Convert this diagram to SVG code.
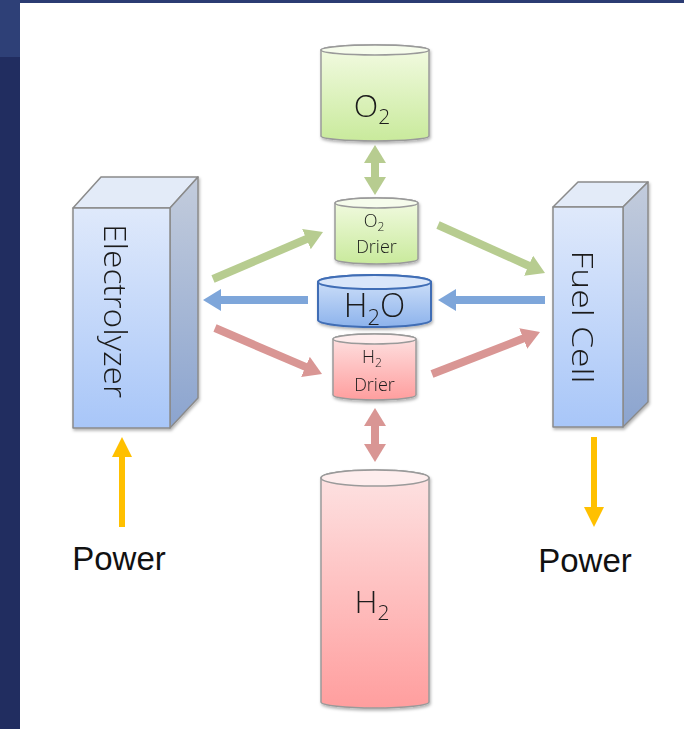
<svg xmlns="http://www.w3.org/2000/svg" width="684" height="729" viewBox="0 0 684 729">
<style>
.lbl{font-family:"Open Sans","Liberation Sans",sans-serif;fill:#1a1a1a;text-anchor:middle;font-weight:300}
.pw{font-family:"Liberation Sans",Arial,sans-serif;font-size:33px;fill:#111;text-anchor:middle}
.tank{stroke:#9a9a9a;stroke-width:1.5}
.box{stroke:#8a8a8a;stroke-width:1.5;stroke-linejoin:round}
</style>
<defs>
<linearGradient id="gG" x1="0" y1="0" x2="0" y2="1"><stop offset="0" stop-color="#F3FBE3"/><stop offset="1" stop-color="#C9EA9C"/></linearGradient>
<linearGradient id="gR" x1="0" y1="0" x2="0" y2="1"><stop offset="0" stop-color="#FDE3E3"/><stop offset="1" stop-color="#FF9E9E"/></linearGradient>
<linearGradient id="gB" x1="0" y1="0" x2="0" y2="1"><stop offset="0" stop-color="#D3E3FA"/><stop offset="1" stop-color="#8DB3EC"/></linearGradient>
<linearGradient id="gF" x1="0" y1="0" x2="0" y2="1"><stop offset="0" stop-color="#DFE9FB"/><stop offset="1" stop-color="#A8C6F8"/></linearGradient>
<linearGradient id="gS" x1="0" y1="0" x2="0" y2="1"><stop offset="0" stop-color="#C3CCDC"/><stop offset="1" stop-color="#8BA4CF"/></linearGradient>
<filter id="sh" x="-20%" y="-20%" width="140%" height="140%"><feDropShadow dx="1" dy="2" stdDeviation="1.5" flood-color="#000" flood-opacity="0.3"/></filter>
<marker id="mG" markerUnits="userSpaceOnUse" markerWidth="18" markerHeight="22" viewBox="0 0 18 22" refX="2" refY="11" orient="auto-start-reverse"><path d="M0,0 L18,11 L0,22 Z" fill="#B7CC90"/></marker>
<marker id="mB" markerUnits="userSpaceOnUse" markerWidth="18" markerHeight="22" viewBox="0 0 18 22" refX="2" refY="11" orient="auto-start-reverse"><path d="M0,0 L18,11 L0,22 Z" fill="#7EA6DA"/></marker>
<marker id="mR" markerUnits="userSpaceOnUse" markerWidth="18" markerHeight="22" viewBox="0 0 18 22" refX="2" refY="11" orient="auto-start-reverse"><path d="M0,0 L18,11 L0,22 Z" fill="#D99694"/></marker>
<marker id="mO" markerUnits="userSpaceOnUse" markerWidth="20" markerHeight="20" viewBox="0 0 20 20" refX="2" refY="10" orient="auto"><path d="M0,0 L20,10 L0,20 Z" fill="#FFC000"/></marker>
</defs>

<rect x="0" y="0" width="684" height="729" fill="#212D60"/>
<rect x="0" y="0" width="684" height="3" fill="#2B3C73"/>
<rect x="0" y="0" width="20" height="57" fill="#2E4077"/>
<rect x="20" y="3" width="664" height="726" fill="#FFFFFF"/>

<g id="connectors" fill="none">
<line x1="213" y1="279" x2="308.3" y2="238.3" stroke="#B7CC90" stroke-width="8" marker-end="url(#mG)"/>
<line x1="438" y1="225" x2="530.4" y2="266.5" stroke="#B7CC90" stroke-width="8" marker-end="url(#mG)"/>
<line x1="375" y1="161" x2="375" y2="179" stroke="#B7CC90" stroke-width="8" marker-start="url(#mG)" marker-end="url(#mG)"/>
<line x1="308" y1="300" x2="219" y2="300" stroke="#7EA6DA" stroke-width="8" marker-end="url(#mB)"/>
<line x1="545" y1="300" x2="454" y2="300" stroke="#7EA6DA" stroke-width="8" marker-end="url(#mB)"/>
<line x1="215" y1="328" x2="307.3" y2="367.7" stroke="#D99694" stroke-width="8" marker-end="url(#mR)"/>
<line x1="432" y1="374" x2="525.1" y2="337.8" stroke="#D99694" stroke-width="8" marker-end="url(#mR)"/>
<line x1="375" y1="424" x2="375" y2="446" stroke="#D99694" stroke-width="8" marker-start="url(#mR)" marker-end="url(#mR)"/>
<line x1="122" y1="527" x2="122" y2="455" stroke="#FFC000" stroke-width="6" marker-end="url(#mO)"/>
<line x1="594" y1="437" x2="594" y2="509" stroke="#FFC000" stroke-width="6" marker-end="url(#mO)"/>
</g>

<g id="electrolyzer" filter="url(#sh)">
<polygon class="box" points="73,208 101,177 198,177 170,208" fill="#E3EBF8"/>
<polygon class="box" points="170,208 198,177 198,398 170,428" fill="url(#gS)"/>
<rect class="box" x="73" y="208" width="97" height="220" fill="url(#gF)"/>
<text class="lbl" font-size="31" dominant-baseline="central" transform="translate(116,311) rotate(90)" textLength="174" lengthAdjust="spacingAndGlyphs">Electrolyzer</text>
</g>

<g id="fuelcell" filter="url(#sh)">
<polygon class="box" points="553,207 578,182 648,182 623,207" fill="#E3EBF8"/>
<polygon class="box" points="623,207 648,182 648,402 623,427" fill="url(#gS)"/>
<rect class="box" x="553" y="207" width="70" height="220" fill="url(#gF)"/>
<text class="lbl" font-size="30" dominant-baseline="central" transform="translate(583,317) rotate(90)" textLength="133" lengthAdjust="spacingAndGlyphs">Fuel Cell</text>
</g>

<g id="o2tank" filter="url(#sh)">
<path class="tank" d="M321,50 L321,136 A54,5 0 0 0 429,136 L429,50 A54,5 0 0 0 321,50 Z" fill="url(#gG)"/>
<ellipse class="tank" cx="375" cy="50" rx="54" ry="5" fill="#F6FCEC"/>
<text class="lbl" x="372" y="117" font-size="32">O<tspan font-size="21" dy="7">2</tspan></text>
</g>

<g id="o2drier" filter="url(#sh)">
<path class="tank" d="M335,203 L335,259 A41.5,5 0 0 0 418,259 L418,203 A41.5,5 0 0 0 335,203 Z" fill="url(#gG)"/>
<ellipse class="tank" cx="376.5" cy="203" rx="41.5" ry="5" fill="#F6FCEC"/>
<text class="lbl" x="374" y="227" font-size="18">O<tspan font-size="12" dy="4">2</tspan></text>
<text class="lbl" x="376.5" y="253" font-size="18">Drier</text>
</g>

<g id="h2o" filter="url(#sh)">
<path d="M318,282 L318,320 A56.5,7 0 0 0 431,320 L431,282 A56.5,7 0 0 0 318,282 Z" fill="url(#gB)" stroke="#3F6DB5" stroke-width="2"/>
<ellipse cx="374.5" cy="282" rx="56.5" ry="7" fill="#D9E6FA" stroke="#3F6DB5" stroke-width="2"/>
<text class="lbl" x="374.5" y="317" font-size="33">H<tspan font-size="22" dy="8">2</tspan><tspan dy="-8">O</tspan></text>
</g>

<g id="h2drier" filter="url(#sh)">
<path class="tank" d="M333,339 L333,395 A41.5,5 0 0 0 416,395 L416,339 A41.5,5 0 0 0 333,339 Z" fill="url(#gR)"/>
<ellipse class="tank" cx="374.5" cy="339" rx="41.5" ry="5" fill="#FEEDED"/>
<text class="lbl" x="372" y="363" font-size="18">H<tspan font-size="12" dy="4">2</tspan></text>
<text class="lbl" x="374.5" y="391" font-size="18">Drier</text>
</g>

<g id="h2tank" filter="url(#sh)">
<path class="tank" d="M321,478 L321,702 A54,6 0 0 0 429,702 L429,478 A54,8 0 0 0 321,478 Z" fill="url(#gR)"/>
<ellipse class="tank" cx="375" cy="478" rx="54" ry="8" fill="#FEEDED"/>
<text class="lbl" x="372" y="613" font-size="32">H<tspan font-size="21" dy="7">2</tspan></text>
</g>

<g id="power-in"><text class="pw" x="119" y="570">Power</text></g>
<g id="power-out"><text class="pw" x="585" y="572">Power</text></g>
</svg>
